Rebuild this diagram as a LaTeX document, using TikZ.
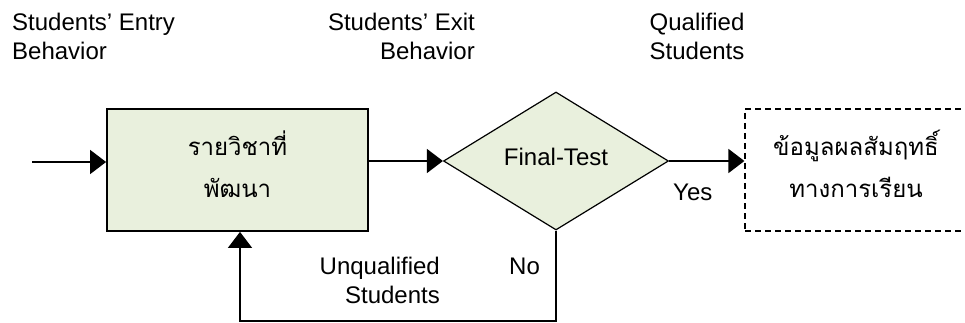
\documentclass[tikz,border=0pt]{standalone}
\usepackage{fontspec}
\setmainfont{Liberation Sans}
\newfontfamily\thaifont[Script=Thai]{Loma}
\usetikzlibrary{shapes.geometric,arrows.meta}
\definecolor{boxgreen}{RGB}{233,240,221}
\begin{document}
\begin{tikzpicture}[x=1pt,y=-1pt,font=\fontsize{24}{29}\selectfont,
    txt/.style={inner sep=0pt,align=#1},
    thai/.style={font=\fontsize{24}{42}\selectfont\thaifont,align=center,yshift=6pt},
    arr/.style={line width=1.5pt,-{Triangle[length=16pt,width=24pt]}}]
  \useasboundingbox (0,0) rectangle (965,323);
  \node[draw,line width=1.8pt,fill=boxgreen,minimum width=261pt,minimum height=122pt,
    label={[thai]center:รายวิชาที่\\พัฒนา}] (course) at (237.5,170) {};
  \node[diamond,draw,line width=1.2pt,fill=boxgreen,minimum width=225pt,minimum height=138pt,inner sep=0pt] (test) at (556,161) {\raisebox{9pt}{Final-Test}};
  \node[draw,dash pattern=on 6pt off 4pt,line width=1.2pt,minimum width=222pt,minimum height=122pt,
    label={[thai]center:ข้อมูลผลสัมฤทธิ์\\ทางการเรียน}] (result) at (856,170) {};
  \node[txt=left,anchor=north west] (entry) at (12,13) {Students’ Entry\\Behavior};
  \node[txt=right,anchor=north east] (exit) at (475,13) {Students’ Exit\\Behavior};
  \node[txt=center,anchor=north] (qualified) at (697,13) {Qualified\\Students};
  \node[txt=center,anchor=base west] (yes) at (673,200) {Yes};
  \node[txt=center,anchor=base west] (no) at (509,274) {No};
  \node[txt=right,anchor=north east] (unqualified) at (440,257) {Unqualified\\Students};
  \coordinate (in) at (32,162);
  \coordinate (back) at (240,321);
  \draw[arr] (in) -- (in -| course.west);
  \draw[arr] (test.west -| course.east) -- (test.west);
  \draw[arr] (test.east) -- (test.east -| result.west);
  \draw[arr,line width=1.3pt] (test.south) |- (back) -- (back |- course.south);
\end{tikzpicture}
\end{document}
